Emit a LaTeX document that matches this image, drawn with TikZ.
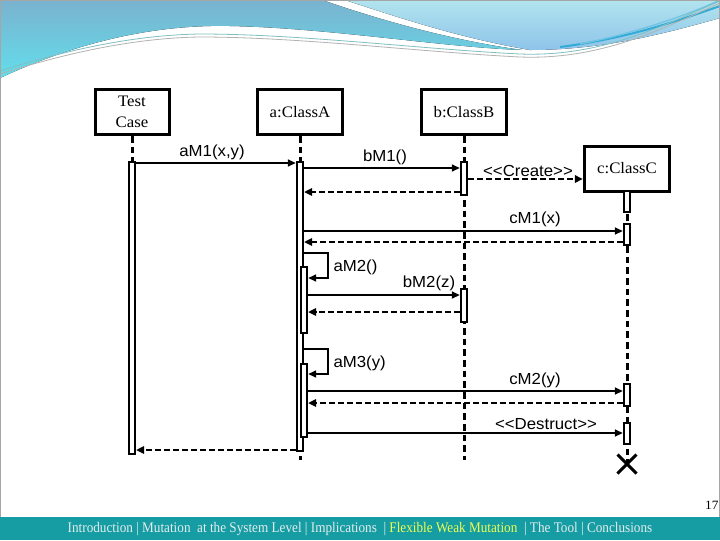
\documentclass[tikz,border=0pt]{standalone}
\usepackage{fontspec}
\usetikzlibrary{arrows.meta,shapes.misc}
\newfontfamily\lblfont[FakeStretch=1.05]{Liberation Sans}
\newfontfamily\boxfont[FakeStretch=1.05]{Liberation Serif}
\newfontfamily\footfont[FakeStretch=0.9]{Liberation Serif}
\definecolor{footteal}{RGB}{22,157,164}
\definecolor{footgray}{RGB}{228,236,236}
\definecolor{footyellow}{RGB}{236,255,80}
\definecolor{waveblue}{RGB}{122,178,206}
\definecolor{wavecyan}{RGB}{98,222,236}
\definecolor{wavepale}{RGB}{178,228,238}
\definecolor{wavelav}{RGB}{142,196,234}
\definecolor{wavedeep}{RGB}{52,170,214}

\tikzset{every picture/.style={line width=0.75pt}}

\begin{document}
\begin{tikzpicture}[x=0.75pt,y=0.75pt,yscale=-1,xscale=1,
  objbox/.style={draw,line width=2.25pt,fill=white,minimum width=64pt,minimum height=33.75pt,inner sep=1pt,align=center,font=\boxfont\fontsize{12}{15.5}\selectfont},
  lifeline/.style={line width=2.25pt,dash pattern=on 5pt off 3pt},
  actbar/.style={draw,line width=1.6pt,fill=white,minimum width=4.5pt,inner sep=0pt},
  msg/.style={line width=1.9pt,-{Triangle[length=6pt,width=5pt]}},
  retmsg/.style={line width=1.9pt,dash pattern=on 4.5pt off 2.25pt,-{Triangle[length=6pt,width=5.5pt]}},
  lbl/.style={inner sep=0.75pt,font=\lblfont\fontsize{12}{14}\selectfont}]

% slide background
\path[use as bounding box,fill=white] (0,0) rectangle (720,540);
% top wave
\fill[top color=waveblue,bottom color=wavecyan] (0,0) -- (322,0) .. controls (380,20) and (450,40) .. (522,50) .. controls (440,47) and (330,28) .. (230,26) .. controls (140,24) and (60,50) .. (0,78) -- cycle;
\fill[top color=wavepale,bottom color=wavelav] (345,0) -- (720,0) -- (720,18) .. controls (660,35) and (600,50) .. (530,50) .. controls (460,38) and (400,18) .. (345,0) -- cycle;
\draw[wavedeep,line width=1.5pt] (560,47) .. controls (630,38) and (680,20) .. (720,6);
\draw[wavedeep!70,line width=1pt] (580,44) .. controls (640,32) and (690,14) .. (720,0);
\draw[gray!60,line width=0.6pt] (0,74) .. controls (60,55) and (130,38) .. (200,37) .. controls (300,37) and (420,52) .. (520,57) .. controls (600,60) and (660,30) .. (720,3);
\draw[teal!50,line width=0.6pt] (0,71) .. controls (60,52) and (130,35) .. (200,34) .. controls (300,34) and (420,49) .. (520,54) .. controls (600,57) and (660,27) .. (720,1);
% slide border
\draw[gray!70] (0.5,517) -- (0.5,0.5) -- (719.5,0.5) -- (719.5,517);
% footer
\fill[footteal] (0,517) rectangle (720,540);
\node[inner sep=0pt,text=footgray,font=\footfont\fontsize{11}{12}\selectfont] (footer) at (360,528.5) {Introduction | Mutation\ \ at the System Level | Implications\ \ | \textcolor{footyellow}{Flexible Weak Mutation}\ \ | The Tool | Conclusions};
\node[anchor=east,inner sep=0.75pt,font=\boxfont\fontsize{9.5}{10}\selectfont] (pagenum) at (720,505) {17};

% objects
\node[objbox,minimum width=55.5pt] (tc) at (132,112) {Test\\Case};
\node[objbox] (ca) at (300,112) {a:ClassA};
\node[objbox] (cb) at (464,112) {b:ClassB};
\node[objbox] (cc) at (627,168.5) {c:ClassC};

% lifeline ends
\coordinate (endT) at (132,162);
\coordinate (endA) at (300,460);
\coordinate (endB) at (464,460);
\node[cross out,draw,line width=2.25pt,minimum size=12pt,inner sep=0pt] (xc) at (627,464) {};

\draw[lifeline] (tc.south) -- (endT);
\draw[lifeline] (ca.south) -- (endA);
\draw[lifeline] (cb.south) -- (endB);
\draw[lifeline] (cc.south) -- (xc.center);

% activation bars
\node[actbar,minimum height=219pt] (barT) at (132,308) {};
\node[actbar,minimum height=216.75pt] (barA) at (300,306.5) {};
\node[actbar,minimum height=49.5pt] (barA2) at (304,300) {};
\node[actbar,minimum height=54.75pt] (barA3) at (304,400.5) {};
\node[actbar,minimum height=24.75pt] (barB1) at (464,178.5) {};
\node[actbar,minimum height=24.75pt] (barB2) at (464,305.5) {};
\node[actbar,minimum height=15.75pt] (barC0) at (627,201.5) {};
\node[actbar,minimum height=15.75pt] (barC1) at (627,234.5) {};
\node[actbar,minimum height=16.5pt] (barC2) at (627,395) {};
\node[actbar,minimum height=15.75pt] (barC3) at (627,433.5) {};

% message heights
\coordinate (yM1) at (0,163);
\coordinate (yM2) at (0,168);
\coordinate (yM3) at (0,179);
\coordinate (yR1) at (0,192);
\coordinate (yM4) at (0,231);
\coordinate (yR2) at (0,242);
\coordinate (yS2) at (0,253);
\coordinate (kS2) at (328,265);
\coordinate (yS2e) at (0,278);
\coordinate (yM5) at (0,295);
\coordinate (yR3) at (0,312);
\coordinate (yS3) at (0,349);
\coordinate (kS3) at (328,361);
\coordinate (yS3e) at (0,374);
\coordinate (yM6) at (0,391);
\coordinate (yR4) at (0,403);
\coordinate (yM7) at (0,433);
\coordinate (yR5) at (0,450);

% messages
\draw[msg] (barT.east |- yM1) -- (barA.west |- yM1);
\draw[msg] (barA.east |- yM2) -- (barB1.west |- yM2);
\draw[retmsg] (barB1.east |- yM3) -- (cc.west |- yM3);
\draw[retmsg] (barB1.west |- yR1) -- (barA.east |- yR1);
\draw[msg] (barA.east |- yM4) -- (barC1.west |- yM4);
\draw[retmsg] (barC1.west |- yR2) -- (barA.east |- yR2);
\draw[msg] (barA.east |- yS2) -| (kS2) |- (barA2.east |- yS2e);
\draw[msg] (barA2.east |- yM5) -- (barB2.west |- yM5);
\draw[retmsg] (barB2.west |- yR3) -- (barA2.east |- yR3);
\draw[msg] (barA.east |- yS3) -| (kS3) |- (barA3.east |- yS3e);
\draw[msg] (barA3.east |- yM6) -- (barC2.west |- yM6);
\draw[retmsg] (barC2.west |- yR4) -- (barA3.east |- yR4);
\draw[msg] (barA3.east |- yM7) -- (barC3.west |- yM7);
\draw[retmsg] (barA.west |- yR5) -- (barT.east |- yR5);

% labels
\node[lbl] (lM1) at (212,152) {aM1(x,y)};
\node[lbl] (lM2) at (385,157) {bM1()};
\node[lbl] (lM3) at (528,171) {<{}<Create>{}>};
\node[lbl] (lM4) at (535,219) {cM1(x)};
\node[lbl,anchor=west] (lS2) at (332,267) {aM2()};
\node[lbl] (lM5) at (429,283) {bM2(z)};
\node[lbl,anchor=west] (lS3) at (332,363) {aM3(y)};
\node[lbl] (lM6) at (535,380) {cM2(y)};
\node[lbl] (lM7) at (546,424) {<{}<Destruct>{}>};

\end{tikzpicture}
\end{document}
